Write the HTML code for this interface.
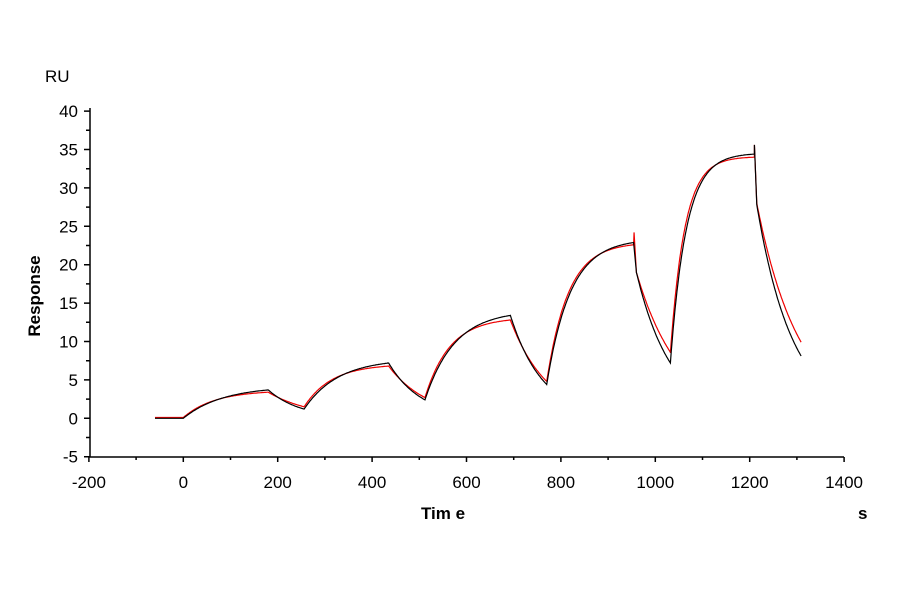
<!DOCTYPE html><html><head><style>body{margin:0;background:#fff}svg text{font-family:"Liberation Sans",Arial,sans-serif;fill:#000}</style></head><body>
<svg id="s" width="900" height="600" viewBox="0 0 900 600" xmlns="http://www.w3.org/2000/svg">
<g id="ax" stroke="#000" stroke-width="1.5" fill="none"></g>
<g id="lb" font-size="17"></g>
<text x="45" y="82" font-size="17">RU</text>
<text transform="translate(40,296) rotate(-90)" font-size="17" font-weight="bold" text-anchor="middle">Response</text>
<text x="443" y="519" font-size="17" font-weight="bold" text-anchor="middle">Tim e</text>
<text x="858" y="519" font-size="17" font-weight="bold">s</text>
<path id="r" fill="none" stroke="#e00" stroke-width="1.2"/>
<path id="b" fill="none" stroke="#000" stroke-width="1.2"/>
</svg>
<script>
var X=t=>183.3+t*94.4/200, Y=v=>418.3-v*38.4/5;
var ax=document.getElementById('ax'),lb=document.getElementById('lb'),d='M90,108V457H844';
for(var t=-200;t<=1400;t+=100){var x=X(t);d+='M'+x+',457V'+(t%200==0?462:460);if(t%200==0)lb.innerHTML+='<text x="'+x+'" y="488" text-anchor="middle">'+t+'</text>';}
for(var v=-5;v<=40;v+=2.5){var y=Y(v);d+='M90,'+y+'H'+(v%5==0?84:86);if(v%5==0)lb.innerHTML+='<text x="78" y="'+(y+6)+'" text-anchor="end">'+v+'</text>';}
ax.innerHTML='<path d="'+d+'"/>';
function build(cyc,o){var p='M'+X(-60)+','+Y(o)+'L'+X(0)+','+Y(o);
cyc.forEach(c=>{var [ts,te,R0,pk,k,td,jp,tr,sp]=c;var E=Math.exp(-k*(te-ts));var Req=(pk-R0*E)/(1-E);
for(var t=ts;t<=te;t+=2)p+='L'+X(t).toFixed(1)+','+Y(Req-(Req-R0)*Math.exp(-k*(t-ts))).toFixed(1);
if(sp)p+='L'+X(te)+','+Y(sp);
var dt=(jp<pk-1.5)?5:0;var t1=te+dt;
p+='L'+X(t1)+','+Y(jp);var kd=Math.log(jp/tr)/(td-t1);
for(var t=t1;t<=td;t+=2)p+='L'+X(t).toFixed(1)+','+Y(jp*Math.exp(-kd*(t-t1))).toFixed(1);});return p;}
document.getElementById('b').setAttribute('d',build([[0,180,0,3.7,0.012,256,3.7,1.2],[256,435,1.2,7.2,0.014,512,7.2,2.4],[512,693,2.4,13.4,0.016,770,13.4,4.4],[770,955,4.4,22.9,0.02,1032,19.0,7.2],[1032,1210,7.2,34.4,0.03,1310,27.8,8.0,35.6]],0));
document.getElementById('r').setAttribute('d',build([[0,180,0.1,3.4,0.015,256,3.4,1.5],[256,435,1.5,6.8,0.017,512,6.8,2.7],[512,693,2.7,12.8,0.019,770,12.8,4.8],[770,955,4.8,22.6,0.022,1032,19.0,8.6,24.2],[1032,1210,8.5,34.0,0.033,1310,28.0,9.8,35.6]],0.1));
</script></body></html>
